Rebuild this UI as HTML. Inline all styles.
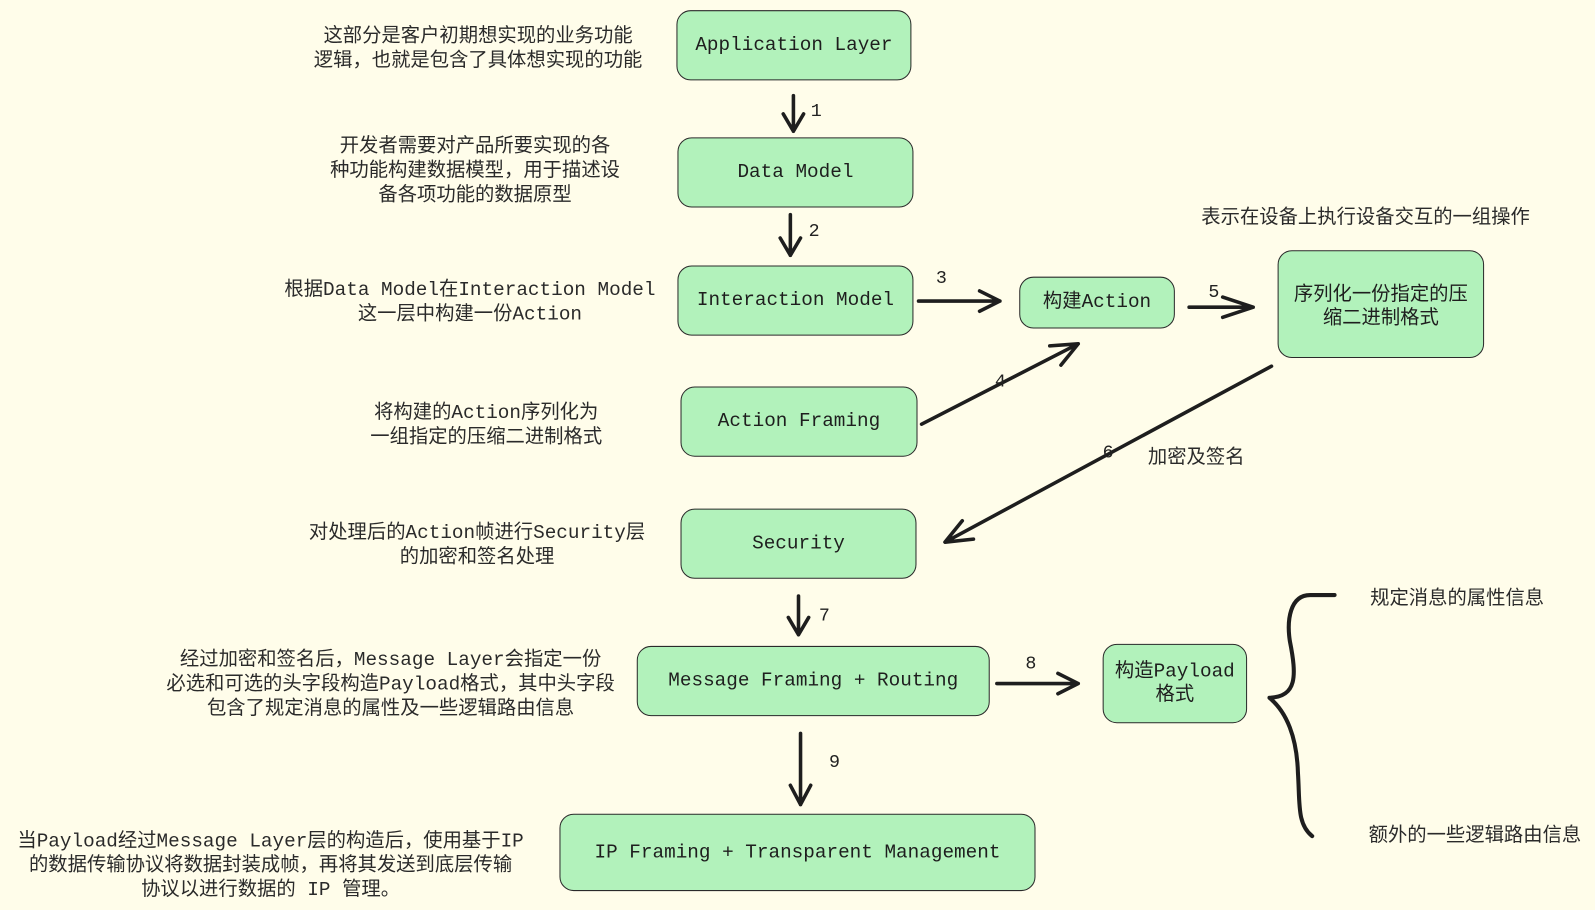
<!DOCTYPE html>
<html><head><meta charset="utf-8"><style>
body{margin:0;width:1595px;height:910px;background:#fffdea;overflow:hidden;font-family:"Liberation Mono","Noto Sans CJK SC",monospace;color:#1e1e1e}
#w{position:absolute;left:0;top:0;width:1568px;height:895px;transform:scale(1.0172);transform-origin:0 0}
.b{position:absolute;background:#b2f2bb;border:1.5px solid #2a2a2a;border-radius:14px;display:flex;align-items:center;justify-content:center;text-align:center;font-size:19px;line-height:23px;box-sizing:border-box}
.t{position:absolute;font-size:19px;line-height:24px;text-align:center;color:#2a2a2a;white-space:nowrap}
.l{position:absolute;font-size:18px;color:#222}
svg{position:absolute;left:0;top:0}
</style></head><body><div id="w">
<svg width="1568" height="895" fill="none" stroke="#1e1e1e" stroke-width="3.5" stroke-linecap="round" stroke-linejoin="round">
<path d="M780 94V129M770 112L780 129L790 112"/>
<path d="M777 211V251M767 234L777 251L787 234"/>
<path d="M903 296H983M963 286L983 296L963 306"/>
<path d="M1169 302H1232M1202 292L1232 302L1202 312"/>
<path d="M906 417L1060 338M1032 340L1060 338L1043 359"/>
<path d="M1250 360L929 533M946 512L929 533L957 530"/>
<path d="M785 586V624M775 607L785 624L795 607"/>
<path d="M980 672H1060M1040 662L1060 672L1040 682"/>
<path d="M787 721V791M777 772L787 791L797 772"/>
<path d="M1312 585H1288C1268 585 1265 610 1268 630C1275 665 1275 685 1248 686C1265 700 1275 725 1276 760C1278 790 1275 810 1290 822" stroke-width="4"/>
</svg>
<div class="b" style="left:665px;top:10px;width:231px;height:69px">Application Layer</div>
<div class="b" style="left:666px;top:135px;width:232px;height:69px">Data Model</div>
<div class="b" style="left:666px;top:261px;width:232px;height:69px">Interaction Model</div>
<div class="b" style="left:669px;top:380px;width:233px;height:69px">Action Framing</div>
<div class="b" style="left:669px;top:500px;width:232px;height:69px">Security</div>
<div class="b" style="left:626px;top:635px;width:347px;height:69px">Message Framing + Routing</div>
<div class="b" style="left:550px;top:800px;width:468px;height:76px">IP Framing + Transparent Management</div>
<div class="b" style="left:1002px;top:272px;width:153px;height:51px">构建Action</div>
<div class="b" style="left:1256px;top:246px;width:203px;height:106px;font-family:'Noto Sans CJK SC',sans-serif">序列化一份指定的压<br>缩二进制格式</div>
<div class="b" style="left:1084px;top:633px;width:142px;height:78px">构造Payload<br>格式</div>
<div class="t" style="left:300px;top:24px;width:340px">这部分是客户初期想实现的业务功能<br>逻辑，也就是包含了具体想实现的功能</div>
<div class="t" style="left:300px;top:132px;width:334px">开发者需要对产品所要实现的各<br>种功能构建数据模型，用于描述设<br>备各项功能的数据原型</div>
<div class="t" style="left:272px;top:273px;width:380px">根据Data Model在Interaction Model<br>这一层中构建一份Action</div>
<div class="t" style="left:330px;top:394px;width:296px">将构建的Action序列化为<br>一组指定的压缩二进制格式</div>
<div class="t" style="left:296px;top:512px;width:346px">对处理后的Action帧进行Security层<br>的加密和签名处理</div>
<div class="t" style="left:150px;top:637px;width:468px">经过加密和签名后，Message Layer会指定一份<br>必选和可选的头字段构造Payload格式，其中头字段<br>包含了规定消息的属性及一些逻辑路由信息</div>
<div class="t" style="left:6px;top:815px;width:520px">当Payload经过Message Layer层的构造后，使用基于IP<br>的数据传输协议将数据封装成帧，再将其发送到底层传输<br>协议以进行数据的 IP 管理。</div>
<div class="t" style="left:1170px;top:202px;width:345px">表示在设备上执行设备交互的一组操作</div>
<div class="t" style="left:1120px;top:438px;width:112px">加密及签名</div>
<div class="t" style="left:1335px;top:577px;width:195px">规定消息的属性信息</div>
<div class="t" style="left:1335px;top:810px;width:230px">额外的一些逻辑路由信息</div>
<div class="l" style="left:797px;top:100px">1</div>
<div class="l" style="left:795px;top:218px">2</div>
<div class="l" style="left:920px;top:264px">3</div>
<div class="l" style="left:978px;top:366px">4</div>
<div class="l" style="left:1188px;top:278px">5</div>
<div class="l" style="left:1084px;top:436px">6</div>
<div class="l" style="left:805px;top:596px">7</div>
<div class="l" style="left:1008px;top:643px">8</div>
<div class="l" style="left:815px;top:740px">9</div>
</div></body></html>
